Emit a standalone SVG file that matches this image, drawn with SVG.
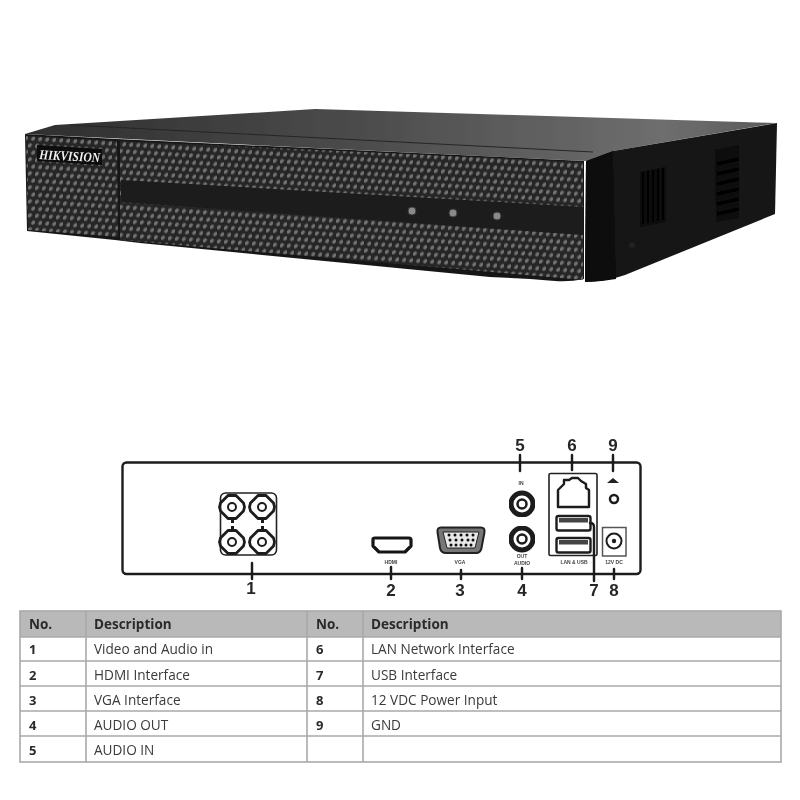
<svg xmlns="http://www.w3.org/2000/svg" width="800" height="800" viewBox="0 0 800 800">
<style>
.ln{fill:none;stroke:#1c1c1c;stroke-width:2.4;stroke-linejoin:round;stroke-linecap:round}
.thin{fill:none;stroke:#222;stroke-width:1.6;stroke-linejoin:round}
.num{font-family:"Liberation Sans",Arial,sans-serif;font-size:17px;font-weight:700;fill:#262626;text-anchor:middle}
.tiny{font-family:"Liberation Sans",Arial,sans-serif;font-size:5px;font-weight:700;fill:#444;text-anchor:middle}
.th{font-family:"Open Sans",sans-serif;font-size:13.5px;font-weight:700;fill:#2a2a2a}
.td{font-family:"Open Sans",sans-serif;font-size:13.6px;fill:#3a3a3a}
.tn{font-family:"Open Sans",sans-serif;font-size:13px;font-weight:700;fill:#2a2a2a}
.grid{stroke:#a9a9a9;stroke-width:1.6;fill:none}
.led{fill:#8a8a8a;stroke:#3a3a3a;stroke-width:1}
.vent{fill:#050505}
.oct{fill:none;stroke:#1c1c1c;stroke-width:2.800;stroke-linejoin:round}
</style>
<defs>
<pattern id="mesh" width="7" height="14" patternUnits="userSpaceOnUse" patternTransform="skewY(3.6)">
<rect width="7" height="14" fill="#262626"/>
<ellipse cx="1.800" cy="3.500" rx="2.500" ry="1.700" fill="#727272" transform="rotate(-50 1.800 3.500)"/>
<ellipse cx="5.300" cy="10.500" rx="2.500" ry="1.700" fill="#727272" transform="rotate(-50 5.300 10.500)"/>
</pattern>
<linearGradient id="top" x1="0" x2="1" y1="0" y2="0">
<stop offset="0" stop-color="#2e2e2e"/><stop offset=".45" stop-color="#4c4c4c"/><stop offset=".85" stop-color="#6e6e6e"/><stop offset="1" stop-color="#5a5a5a"/>
</linearGradient>
<filter id="soft" x="-5%" y="-5%" width="110%" height="110%"><feGaussianBlur stdDeviation="0.5"/></filter>
<g id="bnc">
<polygon class="oct" points="-4,-11.500 4,-11.500 11.500,-4 12.500,0 11.500,4 4,11.500 -4,11.500 -11.500,4 -12.500,0 -11.500,-4"/>
<circle r="4" fill="none" stroke="#1c1c1c" stroke-width="2"/>
</g>
</defs>
<rect width="800" height="800" fill="#fff"/>

<g id="recorder" filter="url(#soft)">
<polygon points="25,134 55,125 315,109 776,123 613,151 586,161" fill="url(#top)"/>
<line x1="70" y1="125" x2="593" y2="152" stroke="#262626" stroke-width="1"/>
<path d="M25,134 L117,139 L584,161 V279 Q570,282 555,281 L530,279 L490,277 L140,243 L115,240 L27,231Z" fill="#161616"/>
<polygon points="26,136 117,141 118,237 28,230" fill="url(#mesh)"/>
<polygon points="120,141 583,162 583,280 120,240" fill="url(#mesh)"/>
<polygon points="121,180 583,207 583,235 121,202" fill="#1b1b1b"/>
<path d="M586,161 L613,151 L777,123 L775,214 L625,275 Q605,282 585,282Z" fill="#141414"/>
<path d="M586,161 L613,151 L616,279 Q600,282 585,282Z" fill="#101010"/>
<path d="M640,172 L666,167 V222 L640,227Z M715,150 L739,145 V218 L716,222Z" fill="#0e0e0e"/>
<g class="vent">
<rect x="642" y="172" width="2.200" height="52"/><rect x="647" y="171" width="2.200" height="52"/><rect x="652" y="170" width="2.200" height="52"/><rect x="657" y="169" width="2.200" height="52"/><rect x="662" y="168" width="2.200" height="52"/>
<polygon points="717,162 739,157 739,161 717,166"/><polygon points="717,172 739,167 739,171 717,176"/><polygon points="717,182 739,177 739,181 717,186"/><polygon points="717,192 739,187 739,191 717,196"/><polygon points="717,202 739,197 739,201 717,206"/><polygon points="717,212 739,207 739,211 717,216"/>
</g>
<circle cx="632" cy="245" r="3" fill="#222"/>
<circle class="led" cx="412" cy="211" r="4"/>
<circle class="led" cx="453" cy="213" r="4"/>
<circle class="led" cx="497" cy="216" r="4"/>
<polygon points="37,145 102,149 102,165 37,161" fill="#0a0a0a"/>
<text x="39" y="159" font-family="Liberation Serif,serif" font-size="13.5" font-weight="700" font-style="italic" fill="#f2f2f2" textLength="61" lengthAdjust="spacingAndGlyphs" transform="rotate(3 39 159)">HIKVISION</text>
</g>

<g id="rear-panel" filter="url(#soft)">
<rect class="ln" x="122.500" y="462.500" width="518" height="111.500" rx="4"/>
</g>

<g id="port-1" filter="url(#soft)">
<rect class="thin" x="220.500" y="493" width="56" height="62" rx="5" stroke-width="2"/>
<g fill="#1c1c1c">
<rect x="231" y="519" width="3" height="4"/><rect x="261" y="519" width="3" height="4"/><rect x="231" y="526" width="3" height="4"/><rect x="261" y="526" width="3" height="4"/>
</g>
<use href="#bnc" x="232" y="507"/>
<use href="#bnc" x="262" y="507"/>
<use href="#bnc" x="232" y="542"/>
<use href="#bnc" x="262" y="542"/>
</g>

<g id="port-2" filter="url(#soft)">
<path d="M373,539 Q373,538 375,538 H409 Q411,538 411,540 V546 L405,552 H379 L373,546Z" fill="#fff" stroke="#151515" stroke-width="3.200" stroke-linejoin="round"/>
<text class="tiny" x="391" y="564">HDMI</text>
</g>

<g id="port-3" filter="url(#soft)">
<path d="M441,527.500 H481 Q485,527.500 484.500,532 L481.500,548 Q480.500,553 476,553 H446 Q441,553 440,548 L437.500,532 Q437,527.500 441,527.500Z" fill="#777" stroke="#222" stroke-width="2"/>
<path d="M443,532 H479 L475,548 H447Z" fill="#e8e8e8" stroke="#222" stroke-width="1"/>
<g fill="#111"><circle cx="449" cy="535" r="1.500"/><circle cx="455" cy="535" r="1.500"/><circle cx="461" cy="535" r="1.500"/><circle cx="467" cy="535" r="1.500"/><circle cx="473" cy="535" r="1.500"/><circle cx="450" cy="540" r="1.500"/><circle cx="456" cy="540" r="1.500"/><circle cx="462" cy="540" r="1.500"/><circle cx="468" cy="540" r="1.500"/><circle cx="473" cy="540" r="1.500"/><circle cx="451" cy="545" r="1.500"/><circle cx="456" cy="545" r="1.500"/><circle cx="461" cy="545" r="1.500"/><circle cx="466" cy="545" r="1.500"/><circle cx="471" cy="545" r="1.500"/></g>
<text class="tiny" x="460" y="564">VGA</text>
</g>

<g id="port-4" filter="url(#soft)">
<circle cx="522" cy="539" r="11" fill="none" stroke="#1c1c1c" stroke-width="5"/>
<circle cx="522" cy="539" r="4.500" fill="none" stroke="#1c1c1c" stroke-width="2.500"/>
<text class="tiny" x="522" y="558">OUT</text>
<text class="tiny" x="522" y="564.500">AUDIO</text>
</g>

<g id="port-5" filter="url(#soft)">
<circle cx="522" cy="504" r="11" fill="none" stroke="#1c1c1c" stroke-width="5"/>
<circle cx="522" cy="504" r="4.500" fill="none" stroke="#1c1c1c" stroke-width="2.500"/>
<text class="tiny" x="521" y="485">IN</text>
</g>

<g id="port-6-7" filter="url(#soft)">
<rect class="thin" x="549" y="473.500" width="48" height="82" rx="1.500"/>
<path class="ln" d="M558,507 V490 L564,484 V480 H569 L572,478 H578 L581,481 L586,484 V488 L589,490 V507Z" stroke-width="2"/>
<rect class="ln" x="556.500" y="516" width="34" height="14.500" rx="2" stroke-width="2"/>
<rect x="559" y="518" width="29" height="4.500" fill="#444"/>
<rect class="ln" x="556.500" y="538" width="34" height="14.500" rx="2" stroke-width="2"/>
<rect x="559" y="540" width="29" height="4.500" fill="#444"/>
<text class="tiny" x="574" y="564">LAN &amp; USB</text>
</g>

<g id="port-8" filter="url(#soft)">
<rect x="602.500" y="527.500" width="23.500" height="28.500" fill="none" stroke="#555" stroke-width="1.500"/>
<circle cx="614" cy="541" r="7.500" fill="none" stroke="#1c1c1c" stroke-width="2"/>
<circle cx="614" cy="541" r="2.200" fill="#1c1c1c"/>
<text class="tiny" x="614" y="564">12V DC</text>
</g>

<g id="port-9" filter="url(#soft)">
<path d="M607,483 L613,478 L619,483Z" fill="#222"/>
<circle cx="614" cy="499" r="4" fill="none" stroke="#1c1c1c" stroke-width="2.500"/>
</g>

<g id="connectors" class="ln" filter="url(#soft)">
<line x1="252" y1="563" x2="252" y2="579"/>
<line x1="391" y1="567" x2="391" y2="579"/>
<line x1="461" y1="570" x2="461" y2="579"/>
<line x1="522" y1="568" x2="522" y2="579"/>
<line x1="520" y1="455" x2="520" y2="471"/>
<line x1="572" y1="455" x2="572" y2="470"/>
<path d="M590,523 Q594,523 594,527 V581"/>
<line x1="614" y1="569" x2="614" y2="579"/>
<line x1="613" y1="455" x2="613" y2="471"/>
</g>

<g id="numbers" filter="url(#soft)">
<text class="num" x="251" y="594">1</text>
<text class="num" x="391" y="596">2</text>
<text class="num" x="460" y="596">3</text>
<text class="num" x="522" y="596">4</text>
<text class="num" x="520" y="451">5</text>
<text class="num" x="572" y="451">6</text>
<text class="num" x="594" y="596">7</text>
<text class="num" x="614" y="596">8</text>
<text class="num" x="613" y="451">9</text>
</g>

<g id="table" filter="url(#soft)">
<rect x="20" y="611" width="761" height="26" fill="#b9b9b9"/>
<rect class="grid" x="20" y="611" width="761" height="151"/>
<path class="grid" d="M20,637 H781 M20,661 H781 M20,686 H781 M20,711 H781 M20,736 H781 M86,611 V762 M307,611 V762 M363,611 V762"/>
<text class="th" x="29" y="629">No.</text>
<text class="th" x="94" y="629">Description</text>
<text class="th" x="316" y="629">No.</text>
<text class="th" x="371" y="629">Description</text>
<text class="tn" x="29" y="654">1</text><text class="td" x="94" y="654">Video and Audio in</text>
<text class="tn" x="29" y="680">2</text><text class="td" x="94" y="680">HDMI Interface</text>
<text class="tn" x="29" y="705">3</text><text class="td" x="94" y="705">VGA Interface</text>
<text class="tn" x="29" y="730">4</text><text class="td" x="94" y="730">AUDIO OUT</text>
<text class="tn" x="29" y="755">5</text><text class="td" x="94" y="755">AUDIO IN</text>
<text class="tn" x="316" y="654">6</text><text class="td" x="371" y="654">LAN Network Interface</text>
<text class="tn" x="316" y="680">7</text><text class="td" x="371" y="680">USB Interface</text>
<text class="tn" x="316" y="705">8</text><text class="td" x="371" y="705">12 VDC Power Input</text>
<text class="tn" x="316" y="730">9</text><text class="td" x="371" y="730">GND</text>
</g>
</svg>
